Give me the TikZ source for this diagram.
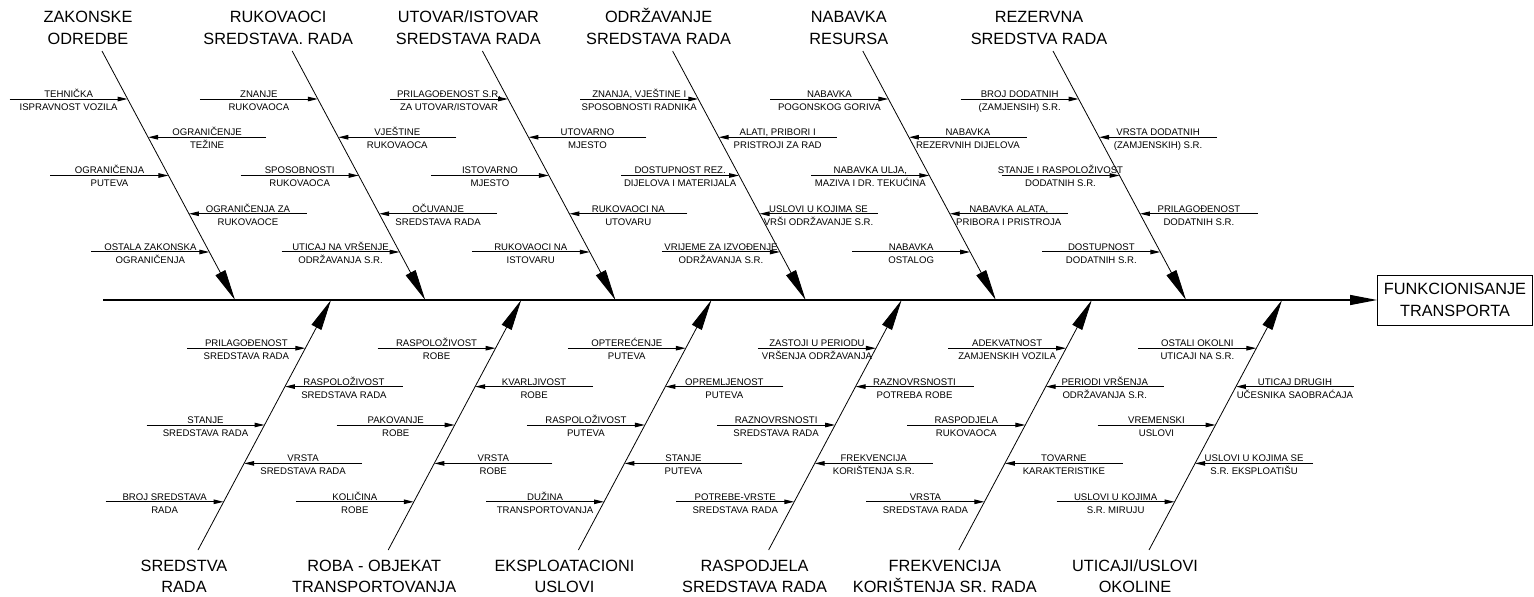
\documentclass[tikz,border=0pt]{standalone}
\usepackage{fontspec}
\setmainfont{Liberation Sans}
\usetikzlibrary{arrows.meta,calc}

\begin{document}
\begin{tikzpicture}[x=1pt,y=-1pt,
  bone/.style={line width=0.8pt,-{Triangle[length=31pt,width=11pt]}},
  twig/.style={line width=1pt,-{Triangle[length=10pt,width=4.5pt]}},
  head/.style={font=\fontsize{16.3}{21}\selectfont,align=center,inner sep=0pt,anchor=base},
  cause/.style={font=\fontsize{9.6}{13}\selectfont,align=center,inner sep=0pt,anchor=base}]
\useasboundingbox (0,0) rectangle (1534,597);
\node[draw,line width=0.8pt,minimum width=155pt,minimum height=50pt,font=\fontsize{16.3}{21.5}\selectfont,align=center] (effect) at (1455,300) {FUNKCIONISANJE\\TRANSPORTA};
\coordinate (tail) at (103,300);
\draw[line width=1.2pt,-{Triangle[length=27pt,width=10pt]}] (tail) -- (effect.west);
% bones
\foreach \i in {1,...,6}{
  \coordinate (ts\i) at (102+190.2*\i-190.2,51);
  \coordinate (te\i) at (235+190.2*\i-190.2,300);
  \coordinate (bs\i) at (198+190.2*\i-190.2,550);
  \coordinate (be\i) at (331+190.2*\i-190.2,300);
  \draw[bone] (ts\i) -- (te\i);
  \draw[bone] (bs\i) -- (be\i);
}
\node[head] (tt1) at ($(ts1)+(-14,-7)$) {ZAKONSKE\\ODREDBE};
\node[head] (tt2) at ($(ts2)+(-14,-7)$) {RUKOVAOCI\\SREDSTAVA. RADA};
\node[head] (tt3) at ($(ts3)+(-14,-7)$) {UTOVAR/ISTOVAR\\SREDSTAVA RADA};
\node[head] (tt4) at ($(ts4)+(-14,-7)$) {ODRŽAVANJE\\SREDSTAVA RADA};
\node[head] (tt5) at ($(ts5)+(-14,-7)$) {NABAVKA\\RESURSA};
\node[head] (tt6) at ($(ts6)+(-14,-7)$) {REZERVNA\\SREDSTVA RADA};
\node[head] (bt1) at ($(bs1)+(-14,42)$) {SREDSTVA\\RADA};
\node[head] (bt2) at ($(bs2)+(-14,42)$) {ROBA - OBJEKAT\\TRANSPORTOVANJA};
\node[head] (bt3) at ($(bs3)+(-14,42)$) {EKSPLOATACIONI\\USLOVI};
\node[head] (bt4) at ($(bs4)+(-14,42)$) {RASPODJELA\\SREDSTAVA RADA};
\node[head] (bt5) at ($(bs5)+(-14,42)$) {FREKVENCIJA\\KORIŠTENJA SR. RADA};
\node[head] (bt6) at ($(bs6)+(-14,42)$) {UTICAJI/USLOVI\\OKOLINE};
% causes on each bone
\foreach \from/\to/\lbls in {
  ts1/te1/{{TEHNIČKA\\ISPRAVNOST VOZILA},{OGRANIČENJE\\TEŽINE},{OGRANIČENJA\\PUTEVA},{OGRANIČENJA ZA\\RUKOVAOCE},{OSTALA ZAKONSKA\\OGRANIČENJA}},
  ts2/te2/{{ZNANJE\\RUKOVAOCA},{VJEŠTINE\\RUKOVAOCA},{SPOSOBNOSTI\\RUKOVAOCA},{OČUVANJE\\SREDSTAVA RADA},{UTICAJ NA VRŠENJE\\ODRŽAVANJA S.R.}},
  ts3/te3/{{PRILAGOĐENOST S.R.\\ZA UTOVAR/ISTOVAR},{UTOVARNO\\MJESTO},{ISTOVARNO\\MJESTO},{RUKOVAOCI NA\\UTOVARU},{RUKOVAOCI NA\\ISTOVARU}},
  ts4/te4/{{ZNANJA, VJEŠTINE I\\SPOSOBNOSTI RADNIKA},{ALATI, PRIBORI I\\PRISTROJI ZA RAD},{DOSTUPNOST REZ.\\DIJELOVA I MATERIJALA},{USLOVI U KOJIMA SE\\VRŠI ODRŽAVANJE S.R.},{VRIJEME ZA IZVOĐENJE\\ODRŽAVANJA S.R.}},
  ts5/te5/{{NABAVKA\\POGONSKOG GORIVA},{NABAVKA\\REZERVNIH DIJELOVA},{NABAVKA ULJA,\\MAZIVA I DR. TEKUĆINA},{NABAVKA ALATA,\\PRIBORA I PRISTROJA},{NABAVKA\\OSTALOG}},
  ts6/te6/{{BROJ DODATNIH\\(ZAMJENSIH) S.R.},{VRSTA DODATNIH\\(ZAMJENSKIH) S.R.},{STANJE I RASPOLOŽIVOST\\DODATNIH S.R.},{PRILAGOĐENOST\\DODATNIH S.R.},{DOSTUPNOST\\DODATNIH S.R.}},
  be1/bs1/{{PRILAGOĐENOST\\SREDSTAVA RADA},{RASPOLOŽIVOST\\SREDSTAVA RADA},{STANJE\\SREDSTAVA RADA},{VRSTA\\SREDSTAVA RADA},{BROJ SREDSTAVA\\RADA}},
  be2/bs2/{{RASPOLOŽIVOST\\ROBE},{KVARLJIVOST\\ROBE},{PAKOVANJE\\ROBE},{VRSTA\\ROBE},{KOLIČINA\\ROBE}},
  be3/bs3/{{OPTEREĆENJE\\PUTEVA},{OPREMLJENOST\\PUTEVA},{RASPOLOŽIVOST\\PUTEVA},{STANJE\\PUTEVA},{DUŽINA\\TRANSPORTOVANJA}},
  be4/bs4/{{ZASTOJI U PERIODU\\VRŠENJA ODRŽAVANJA},{RAZNOVRSNOSTI\\POTREBA ROBE},{RAZNOVRSNOSTI\\SREDSTAVA RADA},{FREKVENCIJA\\KORIŠTENJA S.R.},{POTREBE-VRSTE\\SREDSTAVA RADA}},
  be5/bs5/{{ADEKVATNOST\\ZAMJENSKIH VOZILA},{PERIODI VRŠENJA\\ODRŽAVANJA S.R.},{RASPODJELA\\RUKOVAOCA},{TOVARNE\\KARAKTERISTIKE},{VRSTA\\SREDSTAVA RADA}},
  be6/bs6/{{OSTALI OKOLNI\\UTICAJI NA S.R.},{UTICAJ DRUGIH\\UČESNIKA SAOBRAĆAJA},{VREMENSKI\\USLOVI},{USLOVI U KOJIMA SE\\S.R. EKSPLOATIŠU},{USLOVI U KOJIMA\\S.R. MIRUJU}}}
  \foreach \txt [count=\k] in \lbls {
    \pgfmathsetmacro\fr{0.1928+0.1536*(\k-1)}
    \pgfmathsetmacro\side{2*mod(\k+1,2)-1}
    \coordinate (\from-\k) at ($(\from)!\fr!(\to)$);
    \coordinate (\from-\k-f) at ($(\from-\k)+(118*\side,0)$);
    \draw[twig] (\from-\k-f) -- (\from-\k);
    \node[cause] (\from-\k-t) at ($(\from-\k)+(59*\side,11.5)$) {\txt};
  }
\end{tikzpicture}
\end{document}
